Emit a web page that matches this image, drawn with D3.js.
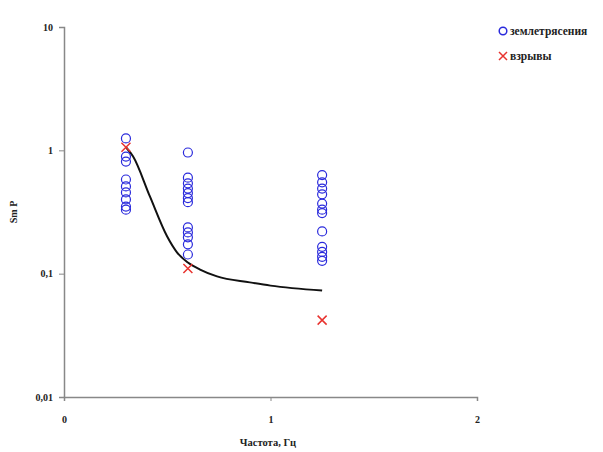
<!DOCTYPE html>
<html><head><meta charset="utf-8">
<script src="https://cdn.jsdelivr.net/npm/d3@7/dist/d3.min.js"></script>
<style>body{margin:0;background:#fff}svg{display:block}text{font-family:"Liberation Serif","DejaVu Serif",serif;font-weight:bold}</style>
</head><body>
<script>
const quakeX = [0.3,0.3,0.3,0.3,0.3,0.3,0.3,0.3,0.3,
  0.6,0.6,0.6,0.6,0.6,0.6,0.6,0.6,0.6,0.6,0.6,0.6,
  1.25,1.25,1.25,1.25,1.25,1.25,1.25,1.25,1.25,1.25,1.25,1.25];
const quakeY = [1.25,0.89,0.81,0.58,0.51,0.456,0.40,0.35,0.33,
  0.96,0.60,0.54,0.49,0.45,0.41,0.38,0.237,0.216,0.197,0.173,0.143,
  0.63,0.55,0.49,0.44,0.37,0.33,0.31,0.22,0.165,0.15,0.137,0.127];
const blastX = [0.3,0.6,1.25];
const blastY = [1.06,0.11,0.042];
const curveX = [0.3,0.334,0.416,0.499,0.547,0.6,0.659,0.741,0.9,1.0,1.25];
const curveY = [1.06,0.894,0.423,0.201,0.149,0.123,0.108,0.095,0.085,0.080,0.073];
const xTicks = [0,1,2];
const yTicks = [0.01,0.1,1,10];
const legendLabels = ["землетрясения","взрывы"];

const W=603,H=452;
const svg=d3.select("body").append("svg").attr("width",W).attr("height",H);
const x=d3.scaleLinear().domain([0,2]).range([64,477]);
const y=d3.scaleLog().domain([0.01,10]).range([397,27]);
const axisColor="#888";
const fontF='"Liberation Serif","DejaVu Serif",serif';

const xa=svg.append("g").attr("transform","translate(0,397)")
  .call(d3.axisBottom(x).tickValues(xTicks).tickSize(4).tickFormat(d=>String(d)));
const ya=svg.append("g").attr("transform","translate(64,0)")
  .call(d3.axisLeft(y).tickValues(yTicks).tickSize(5).tickFormat(d=>String(d).replace(".",",")));
[xa,ya].forEach(a=>{
  a.attr("font-family",fontF);
  a.select(".domain").attr("stroke",axisColor).attr("stroke-width",1.5);
  a.selectAll(".tick line").attr("stroke",axisColor);
  a.selectAll(".tick text").attr("fill","#222").style("font-size","10px").style("font-weight","bold");
});
xa.selectAll(".tick text").attr("dy","1.9em");
ya.selectAll(".tick text").attr("x",-11);

svg.append("path").datum(curveX.map((v,i)=>[v,curveY[i]]))
  .attr("fill","none").attr("stroke","#111").attr("stroke-width",2)
  .attr("d",d3.line().x(d=>x(d[0])).y(d=>y(d[1])).curve(d3.curveMonotoneX));

svg.append("g").selectAll("circle").data(quakeX.map((v,i)=>[v,quakeY[i]])).join("circle")
  .attr("cx",d=>x(d[0])).attr("cy",d=>y(d[1])).attr("r",4.5)
  .attr("fill","none").attr("stroke","#2a2adc").attr("stroke-width",1.2);

function cross(g,cx,cy,s){
  g.append("path").attr("d",`M${cx-s},${cy-s}L${cx+s},${cy+s}M${cx-s},${cy+s}L${cx+s},${cy-s}`)
   .attr("stroke","#e8332f").attr("stroke-width",1.5).attr("fill","none");
}
const bg=svg.append("g");
blastX.forEach((v,i)=>cross(bg,x(v),y(blastY[i]),4.5));

svg.append("text").attr("x",268).attr("y",446).attr("text-anchor","middle").style("font-size","10.5px").attr("fill","#222").text("Частота, Гц");
svg.append("text").attr("transform","translate(17,212) rotate(-90)").attr("text-anchor","middle").style("font-size","10px").attr("fill","#222").text("Sm P");

const lg=svg.append("g");
lg.append("circle").attr("cx",503).attr("cy",31).attr("r",3.8).attr("fill","none").attr("stroke","#2a2adc").attr("stroke-width",1.5);
lg.append("text").attr("x",510).attr("y",35).style("font-size","11.5px").attr("fill","#222").text(legendLabels[0]);
cross(lg,503,56,4);
lg.append("text").attr("x",510).attr("y",60).style("font-size","11.5px").attr("fill","#222").text(legendLabels[1]);
</script>
</body></html>
